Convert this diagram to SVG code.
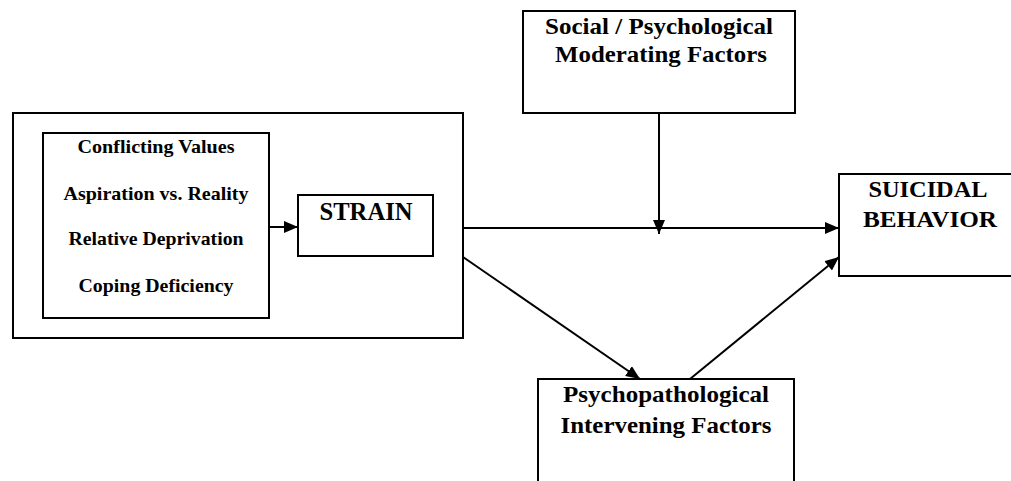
<svg xmlns="http://www.w3.org/2000/svg" width="1011" height="481" viewBox="0 0 1011 481">
<defs>
<marker id="ah" markerUnits="userSpaceOnUse" markerWidth="14" markerHeight="12" refX="14" refY="6" orient="auto">
<path d="M0,0 L14,6 L0,12 Z" fill="#000"/>
</marker>
<style>
rect{fill:#fff;stroke:#000;stroke-width:2}
text{font-family:"Liberation Serif","Times New Roman",serif;font-weight:bold;fill:#000;text-anchor:middle}
.c{stroke:#000;stroke-width:2;fill:none;marker-end:url(#ah)}
</style>
</defs>
<rect x="0" y="0" width="1011" height="481" style="stroke:none;fill:#fff"/>
<g id="outer">
<rect x="13" y="113" width="450" height="225"/>
</g>
<g id="causes">
<rect x="43" y="133" width="226" height="185"/>
<text x="156" y="153" font-size="19" textLength="157" lengthAdjust="spacingAndGlyphs">Conflicting Values</text>
<text x="156" y="200" font-size="19" textLength="185" lengthAdjust="spacingAndGlyphs">Aspiration vs. Reality</text>
<text x="156" y="245" font-size="19" textLength="175" lengthAdjust="spacingAndGlyphs">Relative Deprivation</text>
<text x="156" y="292" font-size="19" textLength="155" lengthAdjust="spacingAndGlyphs">Coping Deficiency</text>
</g>
<g id="strain">
<rect x="298" y="195" width="135" height="61"/>
<text x="366" y="220" font-size="26" textLength="93" lengthAdjust="spacingAndGlyphs">STRAIN</text>
</g>
<g id="moderating">
<rect x="523" y="11" width="272" height="102"/>
<text x="659" y="34" font-size="23" textLength="228" lengthAdjust="spacingAndGlyphs">Social / Psychological</text>
<text x="661" y="62" font-size="23" textLength="212" lengthAdjust="spacingAndGlyphs">Moderating Factors</text>
</g>
<g id="suicidal">
<rect x="839" y="174" width="190" height="102"/>
<text x="928" y="197" font-size="24" textLength="119" lengthAdjust="spacingAndGlyphs">SUICIDAL</text>
<text x="930" y="227" font-size="24" textLength="134" lengthAdjust="spacingAndGlyphs">BEHAVIOR</text>
</g>
<g id="intervening">
<rect x="538" y="379" width="256" height="120"/>
<text x="666" y="402" font-size="23" textLength="206" lengthAdjust="spacingAndGlyphs">Psychopathological</text>
<text x="666" y="433" font-size="23" textLength="211" lengthAdjust="spacingAndGlyphs">Intervening Factors</text>
</g>
<g id="connectors">
<line class="c" x1="269" y1="227" x2="298" y2="227"/>
<line class="c" x1="463" y1="228" x2="839" y2="228"/>
<line class="c" x1="659" y1="113" x2="659" y2="234"/>
<line class="c" x1="463" y1="257" x2="640" y2="379"/>
<line class="c" x1="690" y1="379" x2="839" y2="257"/>
</g>
</svg>
